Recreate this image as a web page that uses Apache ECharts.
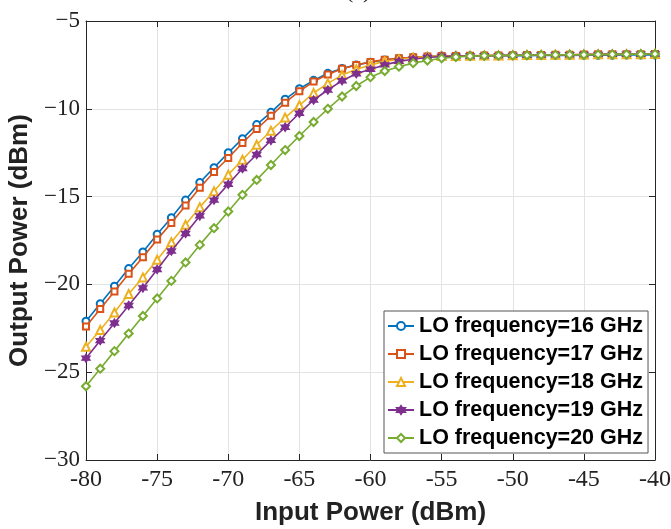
<!DOCTYPE html>
<html>
<head>
<meta charset="utf-8">
<script src="https://cdn.jsdelivr.net/npm/echarts@6/dist/echarts.min.js"></script>
<style>
html,body{margin:0;padding:0;background:#fff;}
#chart{width:671px;height:529px;}
</style>
</head>
<body>
<div id="chart"></div>
<script>
const inputPower = [-80,-79,-78,-77,-76,-75,-74,-73,-72,-71,-70,-69,-68,-67,-66,-65,-64,-63,-62,-61,-60,-59,-58,-57,-56,-55,-54,-53,-52,-51,-50,-49,-48,-47,-46,-45,-44,-43,-42,-41,-40];
const lo16 = [-22.1,-21.1,-20.1,-19.1,-18.15,-17.15,-16.2,-15.2,-14.2,-13.35,-12.5,-11.7,-10.9,-10.2,-9.45,-8.86,-8.38,-7.98,-7.7,-7.5,-7.35,-7.22,-7.13,-7.07,-7.03,-7.0,-6.99,-6.99,-6.98,-6.98,-6.97,-6.97,-6.96,-6.96,-6.96,-6.95,-6.95,-6.95,-6.94,-6.94,-6.94];
const lo17 = [-22.4,-21.4,-20.4,-19.4,-18.45,-17.45,-16.5,-15.5,-14.5,-13.6,-12.8,-11.95,-11.15,-10.4,-9.65,-9.0,-8.45,-8.05,-7.72,-7.5,-7.33,-7.2,-7.12,-7.06,-7.02,-7.0,-6.99,-6.98,-6.97,-6.96,-6.95,-6.94,-6.93,-6.92,-6.92,-6.91,-6.9,-6.9,-6.89,-6.89,-6.88];
const lo18 = [-23.55,-22.6,-21.6,-20.55,-19.6,-18.6,-17.6,-16.6,-15.6,-14.7,-13.75,-12.9,-12.05,-11.25,-10.5,-9.8,-9.1,-8.55,-8.08,-7.75,-7.5,-7.3,-7.18,-7.09,-7.03,-7.0,-6.99,-6.98,-6.97,-6.96,-6.95,-6.94,-6.93,-6.92,-6.92,-6.91,-6.9,-6.9,-6.89,-6.89,-6.88];
const lo19 = [-24.2,-23.2,-22.2,-21.2,-20.2,-19.15,-18.1,-17.1,-16.1,-15.2,-14.3,-13.4,-12.6,-11.8,-11.05,-10.25,-9.5,-8.93,-8.4,-8.0,-7.75,-7.5,-7.3,-7.18,-7.08,-7.02,-7.0,-6.99,-6.98,-6.97,-6.96,-6.95,-6.94,-6.93,-6.92,-6.91,-6.9,-6.9,-6.89,-6.89,-6.88];
const lo20 = [-25.8,-24.8,-23.8,-22.8,-21.8,-20.8,-19.8,-18.75,-17.75,-16.8,-15.85,-14.9,-14.05,-13.2,-12.35,-11.55,-10.75,-10.0,-9.3,-8.7,-8.2,-7.85,-7.6,-7.4,-7.25,-7.12,-7.05,-7.0,-6.98,-6.97,-6.96,-6.95,-6.94,-6.93,-6.92,-6.92,-6.91,-6.9,-6.9,-6.89,-6.88];
const seriesNames = ['LO frequency=16 GHz','LO frequency=17 GHz','LO frequency=18 GHz','LO frequency=19 GHz','LO frequency=20 GHz'];
const seriesValues = [lo16, lo17, lo18, lo19, lo20];
const xTicks = [-80,-75,-70,-65,-60,-55,-50,-45,-40];
const yTicks = [-30,-25,-20,-15,-10,-5];

const colors = ['#0072BD','#D95319','#EDB120','#7E2F8E','#77AC30'];
const hexagram = 'path://M0,-10L2.9,-5L8.66,-5L5.8,0L8.66,5L2.9,5L0,10L-2.9,5L-8.66,5L-5.8,0L-8.66,-5L-2.9,-5Z';
const symbols = ['emptyCircle','emptyRect','emptyTriangle',hexagram,'emptyDiamond'];
const symbolSizes = [7,6,8,8,8];

const chart = echarts.init(document.getElementById('chart'), null, {renderer:'canvas'});
const serifFont = '"Liberation Serif", "DejaVu Serif", serif';
const sansFont = '"Liberation Sans", Arial, sans-serif';

const series = seriesNames.map((name, i) => ({
  name: name,
  type: 'line',
  data: inputPower.map((x, j) => [x, seriesValues[i][j]]),
  symbol: symbols[i],
  symbolSize: symbolSizes[i],
  showAllSymbol: true,
  lineStyle: {color: colors[i], width: 1.6},
  itemStyle: {color: colors[i], borderColor: colors[i], borderWidth: 1.4},
  emphasis: {disabled: true},
  z: 2 + i
}));

const option = {
  animation: false,
  color: colors,
  graphic: [{
    type: 'text', left: 346, top: -19,
    style: {text: '(a)', font: '22px ' + serifFont, fill: '#222'}
  }],
  grid: {left: 86, right: 16, top: 21, bottom: 69, show: false, containLabel: false, outerBoundsMode: 'none'},
  legend: {
    orient: 'vertical',
    left: 384, top: 311,
    padding: [4, 5, 4, 3],
    itemWidth: 26, itemHeight: 10, itemGap: 6,
    backgroundColor: '#fff',
    borderColor: '#555', borderWidth: 1,
    textStyle: {fontFamily: sansFont, fontWeight: 'bold', fontSize: 21.5, color: '#000', lineHeight: 22},
    data: seriesNames
  },
  xAxis: [{
    type: 'value', min: -80, max: -40, interval: 5,
    name: 'Input Power (dBm)', nameLocation: 'middle', nameGap: 40,
    nameTextStyle: {fontFamily: sansFont, fontWeight: 'bold', fontSize: 26, color: '#222'},
    axisLine: {show: true, onZero: false, lineStyle: {color: '#262626', width: 1}},
    axisTick: {show: true, inside: true, length: 6, lineStyle: {color: '#262626'}},
    axisLabel: {fontFamily: serifFont, fontSize: 24, color: '#222', margin: 8,
      formatter: v => xTicks.indexOf(v) >= 0 ? String(v) : ''},
    splitLine: {show: true, lineStyle: {color: '#e3e3e3', width: 1}}
  }, {
    type: 'value', min: -80, max: -40, interval: 5, position: 'top',
    axisLine: {show: true, onZero: false, lineStyle: {color: '#262626', width: 1}},
    axisTick: {show: true, inside: true, length: 6, lineStyle: {color: '#262626'}},
    axisLabel: {show: false}, splitLine: {show: false}
  }],
  yAxis: [{
    type: 'value', min: -30, max: -5, interval: 5,
    name: 'Output Power (dBm)', nameLocation: 'middle', nameGap: 42,
    nameTextStyle: {fontFamily: sansFont, fontWeight: 'bold', fontSize: 26, color: '#222'},
    axisLine: {show: true, onZero: false, lineStyle: {color: '#262626', width: 1}},
    axisTick: {show: true, inside: true, length: 6, lineStyle: {color: '#262626'}},
    axisLabel: {fontFamily: serifFont, fontSize: 23, color: '#222', margin: 6,
      formatter: v => yTicks.indexOf(v) >= 0 ? String(v).replace('-', '\u2212') : ''},
    splitLine: {show: true, lineStyle: {color: '#e3e3e3', width: 1}}
  }, {
    type: 'value', min: -30, max: -5, interval: 5, position: 'right',
    axisLine: {show: true, onZero: false, lineStyle: {color: '#262626', width: 1}},
    axisTick: {show: true, inside: true, length: 6, lineStyle: {color: '#262626'}},
    axisLabel: {show: false}, splitLine: {show: false}
  }],
  series: series
};
chart.setOption(option);
</script>
</body>
</html>
